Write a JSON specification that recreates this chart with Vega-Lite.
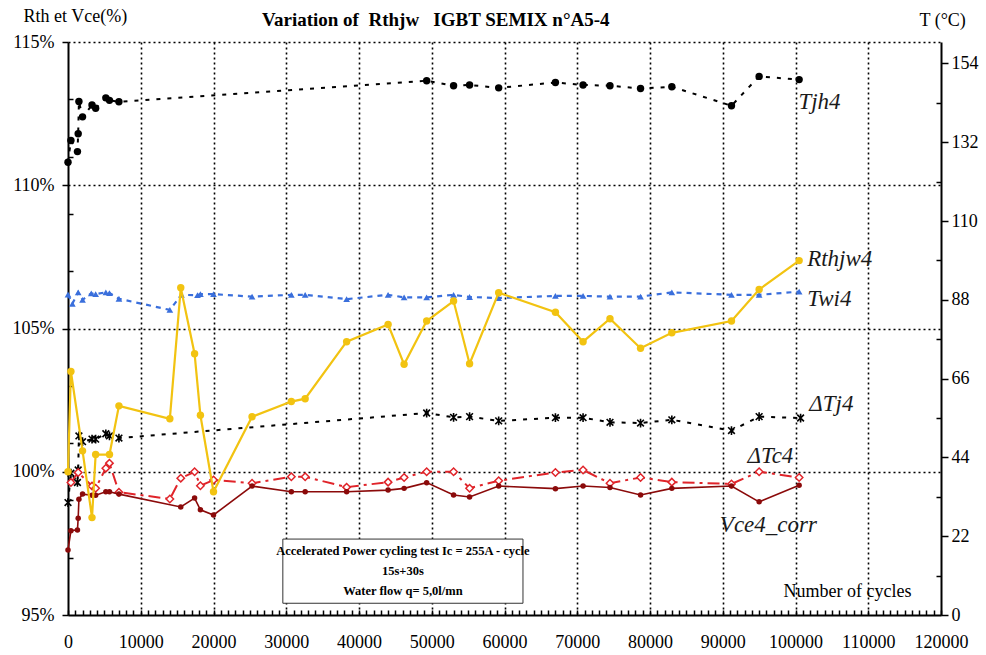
{
  "$schema": "https://vega.github.io/schema/vega-lite/v6.json",
  "width": 873,
  "height": 573,
  "autosize": "none",
  "padding": {"left": 68, "top": 42, "right": 45, "bottom": 40},
  "background": "white",
  "config": {
    "view": {"stroke": null},
    "font": "Liberation Serif",
    "axis": {"labelFont": "Liberation Serif", "titleFont": "Liberation Serif"},
    "text": {"font": "Liberation Serif"}
  },
  "title": {
    "text": "Variation of\u00a0 Rthjw\u00a0\u00a0 IGBT SEMIX n°A5-4",
    "anchor": "start", "frame": "group", "dx": 194, "dy": 20, "offset": -18,
    "font": "Liberation Serif", "fontSize": 19, "fontWeight": "bold", "color": "black", "baseline": "alphabetic"
  },
  "datasets": {
    "series": [
      {"s": "Tjh4", "cycles": 0, "v": 126.4},
      {"s": "Tjh4", "cycles": 400, "v": 132.5},
      {"s": "Tjh4", "cycles": 1300, "v": 129.4},
      {"s": "Tjh4", "cycles": 1400, "v": 134.4},
      {"s": "Tjh4", "cycles": 1500, "v": 143.4},
      {"s": "Tjh4", "cycles": 2000, "v": 139.1},
      {"s": "Tjh4", "cycles": 3300, "v": 142.4},
      {"s": "Tjh4", "cycles": 3800, "v": 141.5},
      {"s": "Tjh4", "cycles": 5200, "v": 144.4},
      {"s": "Tjh4", "cycles": 5700, "v": 143.7},
      {"s": "Tjh4", "cycles": 7000, "v": 143.3},
      {"s": "Tjh4", "cycles": 49300, "v": 149.2},
      {"s": "Tjh4", "cycles": 53000, "v": 147.8},
      {"s": "Tjh4", "cycles": 55200, "v": 148.0},
      {"s": "Tjh4", "cycles": 59200, "v": 147.2},
      {"s": "Tjh4", "cycles": 67000, "v": 148.7},
      {"s": "Tjh4", "cycles": 70800, "v": 148.0},
      {"s": "Tjh4", "cycles": 74500, "v": 147.8},
      {"s": "Tjh4", "cycles": 78700, "v": 147.0},
      {"s": "Tjh4", "cycles": 83000, "v": 147.5},
      {"s": "Tjh4", "cycles": 91200, "v": 142.2},
      {"s": "Tjh4", "cycles": 95000, "v": 150.4},
      {"s": "Tjh4", "cycles": 100500, "v": 149.5},

      {"s": "Twi4", "cycles": 0, "v": 89.5},
      {"s": "Twi4", "cycles": 600, "v": 86.9},
      {"s": "Twi4", "cycles": 1400, "v": 90.1},
      {"s": "Twi4", "cycles": 2000, "v": 88.0},
      {"s": "Twi4", "cycles": 3200, "v": 89.8},
      {"s": "Twi4", "cycles": 3800, "v": 89.6},
      {"s": "Twi4", "cycles": 5200, "v": 90.1},
      {"s": "Twi4", "cycles": 5700, "v": 89.9},
      {"s": "Twi4", "cycles": 7000, "v": 88.3},
      {"s": "Twi4", "cycles": 14000, "v": 85.2},
      {"s": "Twi4", "cycles": 15600, "v": 89.4},
      {"s": "Twi4", "cycles": 17800, "v": 89.3},
      {"s": "Twi4", "cycles": 18200, "v": 89.6},
      {"s": "Twi4", "cycles": 20000, "v": 89.6},
      {"s": "Twi4", "cycles": 25300, "v": 88.9},
      {"s": "Twi4", "cycles": 30700, "v": 89.4},
      {"s": "Twi4", "cycles": 32600, "v": 89.4},
      {"s": "Twi4", "cycles": 38300, "v": 88.2},
      {"s": "Twi4", "cycles": 44000, "v": 89.4},
      {"s": "Twi4", "cycles": 46200, "v": 88.7},
      {"s": "Twi4", "cycles": 49300, "v": 88.7},
      {"s": "Twi4", "cycles": 53000, "v": 89.4},
      {"s": "Twi4", "cycles": 55200, "v": 88.8},
      {"s": "Twi4", "cycles": 59200, "v": 88.5},
      {"s": "Twi4", "cycles": 67000, "v": 89.1},
      {"s": "Twi4", "cycles": 70800, "v": 89.1},
      {"s": "Twi4", "cycles": 74500, "v": 88.9},
      {"s": "Twi4", "cycles": 78700, "v": 88.9},
      {"s": "Twi4", "cycles": 83000, "v": 90.1},
      {"s": "Twi4", "cycles": 91200, "v": 89.4},
      {"s": "Twi4", "cycles": 95000, "v": 89.4},
      {"s": "Twi4", "cycles": 100500, "v": 90.3},

      {"s": "dTj4", "cycles": 0, "v": 31.4},
      {"s": "dTj4", "cycles": 400, "v": 39.6},
      {"s": "dTj4", "cycles": 1300, "v": 37.0},
      {"s": "dTj4", "cycles": 1400, "v": 40.5},
      {"s": "dTj4", "cycles": 1500, "v": 50.0},
      {"s": "dTj4", "cycles": 2000, "v": 48.4},
      {"s": "dTj4", "cycles": 3300, "v": 49.1},
      {"s": "dTj4", "cycles": 3800, "v": 49.1},
      {"s": "dTj4", "cycles": 5200, "v": 50.6},
      {"s": "dTj4", "cycles": 5700, "v": 50.0},
      {"s": "dTj4", "cycles": 7000, "v": 49.4},
      {"s": "dTj4", "cycles": 49300, "v": 56.4},
      {"s": "dTj4", "cycles": 53000, "v": 55.2},
      {"s": "dTj4", "cycles": 55200, "v": 55.4},
      {"s": "dTj4", "cycles": 59200, "v": 54.2},
      {"s": "dTj4", "cycles": 67000, "v": 55.1},
      {"s": "dTj4", "cycles": 70800, "v": 55.1},
      {"s": "dTj4", "cycles": 74500, "v": 53.8},
      {"s": "dTj4", "cycles": 78700, "v": 53.6},
      {"s": "dTj4", "cycles": 83000, "v": 54.5},
      {"s": "dTj4", "cycles": 91200, "v": 51.5},
      {"s": "dTj4", "cycles": 95000, "v": 55.4},
      {"s": "dTj4", "cycles": 100700, "v": 55.0},

      {"s": "dTc4", "cycles": 400, "v": 37.0},
      {"s": "dTc4", "cycles": 1400, "v": 39.8},
      {"s": "dTc4", "cycles": 3300, "v": 36.0},
      {"s": "dTc4", "cycles": 3800, "v": 35.4},
      {"s": "dTc4", "cycles": 5200, "v": 41.0},
      {"s": "dTc4", "cycles": 5700, "v": 42.4},
      {"s": "dTc4", "cycles": 7000, "v": 34.3},
      {"s": "dTc4", "cycles": 14000, "v": 32.4},
      {"s": "dTc4", "cycles": 15500, "v": 38.2},
      {"s": "dTc4", "cycles": 17400, "v": 40.0},
      {"s": "dTc4", "cycles": 18200, "v": 36.1},
      {"s": "dTc4", "cycles": 20000, "v": 37.7},
      {"s": "dTc4", "cycles": 25300, "v": 36.8},
      {"s": "dTc4", "cycles": 30700, "v": 38.6},
      {"s": "dTc4", "cycles": 32600, "v": 38.6},
      {"s": "dTc4", "cycles": 38300, "v": 35.7},
      {"s": "dTc4", "cycles": 44000, "v": 37.1},
      {"s": "dTc4", "cycles": 46200, "v": 38.4},
      {"s": "dTc4", "cycles": 49300, "v": 40.0},
      {"s": "dTc4", "cycles": 53000, "v": 40.0},
      {"s": "dTc4", "cycles": 55200, "v": 35.4},
      {"s": "dTc4", "cycles": 59200, "v": 37.5},
      {"s": "dTc4", "cycles": 67000, "v": 39.8},
      {"s": "dTc4", "cycles": 70800, "v": 40.5},
      {"s": "dTc4", "cycles": 74500, "v": 36.8},
      {"s": "dTc4", "cycles": 78700, "v": 38.4},
      {"s": "dTc4", "cycles": 83000, "v": 37.1},
      {"s": "dTc4", "cycles": 91200, "v": 36.6},
      {"s": "dTc4", "cycles": 95000, "v": 40.0},
      {"s": "dTc4", "cycles": 100500, "v": 38.4},

      {"s": "Rthjw4", "cycles": 0, "v": 100.0},
      {"s": "Rthjw4", "cycles": 400, "v": 103.5},
      {"s": "Rthjw4", "cycles": 2000, "v": 100.73},
      {"s": "Rthjw4", "cycles": 3300, "v": 98.4},
      {"s": "Rthjw4", "cycles": 3800, "v": 100.6},
      {"s": "Rthjw4", "cycles": 5700, "v": 100.6},
      {"s": "Rthjw4", "cycles": 7000, "v": 102.3},
      {"s": "Rthjw4", "cycles": 14000, "v": 101.85},
      {"s": "Rthjw4", "cycles": 15500, "v": 106.42},
      {"s": "Rthjw4", "cycles": 17400, "v": 104.12},
      {"s": "Rthjw4", "cycles": 18200, "v": 101.97},
      {"s": "Rthjw4", "cycles": 20000, "v": 99.3},
      {"s": "Rthjw4", "cycles": 25300, "v": 101.92},
      {"s": "Rthjw4", "cycles": 30700, "v": 102.45},
      {"s": "Rthjw4", "cycles": 32600, "v": 102.55},
      {"s": "Rthjw4", "cycles": 38300, "v": 104.54},
      {"s": "Rthjw4", "cycles": 44000, "v": 105.14},
      {"s": "Rthjw4", "cycles": 46200, "v": 103.75},
      {"s": "Rthjw4", "cycles": 49300, "v": 105.26},
      {"s": "Rthjw4", "cycles": 53000, "v": 105.96},
      {"s": "Rthjw4", "cycles": 55200, "v": 103.77},
      {"s": "Rthjw4", "cycles": 59200, "v": 106.25},
      {"s": "Rthjw4", "cycles": 67000, "v": 105.57},
      {"s": "Rthjw4", "cycles": 70800, "v": 104.54},
      {"s": "Rthjw4", "cycles": 74500, "v": 105.34},
      {"s": "Rthjw4", "cycles": 78700, "v": 104.31},
      {"s": "Rthjw4", "cycles": 83000, "v": 104.85},
      {"s": "Rthjw4", "cycles": 91200, "v": 105.26},
      {"s": "Rthjw4", "cycles": 95000, "v": 106.36},
      {"s": "Rthjw4", "cycles": 100500, "v": 107.37},

      {"s": "Vce4_corr", "cycles": 0, "v": 97.27},
      {"s": "Vce4_corr", "cycles": 400, "v": 97.94},
      {"s": "Vce4_corr", "cycles": 1300, "v": 97.97},
      {"s": "Vce4_corr", "cycles": 1400, "v": 98.38},
      {"s": "Vce4_corr", "cycles": 1500, "v": 99.04},
      {"s": "Vce4_corr", "cycles": 2000, "v": 99.22},
      {"s": "Vce4_corr", "cycles": 3300, "v": 99.18},
      {"s": "Vce4_corr", "cycles": 3800, "v": 99.18},
      {"s": "Vce4_corr", "cycles": 5200, "v": 99.3},
      {"s": "Vce4_corr", "cycles": 5700, "v": 99.3},
      {"s": "Vce4_corr", "cycles": 7000, "v": 99.22},
      {"s": "Vce4_corr", "cycles": 15500, "v": 98.77},
      {"s": "Vce4_corr", "cycles": 17400, "v": 99.08},
      {"s": "Vce4_corr", "cycles": 18200, "v": 98.67},
      {"s": "Vce4_corr", "cycles": 20000, "v": 98.49},
      {"s": "Vce4_corr", "cycles": 25300, "v": 99.5},
      {"s": "Vce4_corr", "cycles": 30700, "v": 99.3},
      {"s": "Vce4_corr", "cycles": 32600, "v": 99.3},
      {"s": "Vce4_corr", "cycles": 38300, "v": 99.3},
      {"s": "Vce4_corr", "cycles": 44000, "v": 99.36},
      {"s": "Vce4_corr", "cycles": 46200, "v": 99.42},
      {"s": "Vce4_corr", "cycles": 49300, "v": 99.62},
      {"s": "Vce4_corr", "cycles": 53000, "v": 99.19},
      {"s": "Vce4_corr", "cycles": 55200, "v": 99.12},
      {"s": "Vce4_corr", "cycles": 59200, "v": 99.5},
      {"s": "Vce4_corr", "cycles": 67000, "v": 99.41},
      {"s": "Vce4_corr", "cycles": 70800, "v": 99.5},
      {"s": "Vce4_corr", "cycles": 74500, "v": 99.45},
      {"s": "Vce4_corr", "cycles": 78700, "v": 99.19},
      {"s": "Vce4_corr", "cycles": 83000, "v": 99.42},
      {"s": "Vce4_corr", "cycles": 91200, "v": 99.5},
      {"s": "Vce4_corr", "cycles": 95000, "v": 98.95},
      {"s": "Vce4_corr", "cycles": 100500, "v": 99.53}
    ],
    "labels": [
      {"label": "Tjh4", "cycles": 100400, "v": 112.67},
      {"label": "Rthjw4", "cycles": 101600, "v": 107.17},
      {"label": "Twi4", "cycles": 101600, "v": 105.78},
      {"label": "ΔTj4", "cycles": 101900, "v": 102.12},
      {"label": "ΔTc4", "cycles": 93400, "v": 100.32},
      {"label": "Vce4_corr", "cycles": 89600, "v": 97.89}
    ],
    "note": [
      {"note": ["Accelerated Power cycling test Ic = 255A - cycle", "15s+30s", "Water flow q= 5,0l/mn"],
       "from": 29530, "to": 62540, "low": 95.41, "high": 97.65, "mid": 46035, "first": 97.09}
    ]
  },
  "data": {"name": "series"},
  "encoding": {
    "x": {
      "field": "cycles", "type": "quantitative",
      "scale": {"domain": [0, 120000], "nice": false, "zero": false},
      "axis": {
        "values": [0,1000,2000,3000,4000,5000,6000,7000,8000,9000,10000,11000,12000,13000,14000,15000,16000,17000,18000,19000,20000,21000,22000,23000,24000,25000,26000,27000,28000,29000,30000,31000,32000,33000,34000,35000,36000,37000,38000,39000,40000,41000,42000,43000,44000,45000,46000,47000,48000,49000,50000,51000,52000,53000,54000,55000,56000,57000,58000,59000,60000,61000,62000,63000,64000,65000,66000,67000,68000,69000,70000,71000,72000,73000,74000,75000,76000,77000,78000,79000,80000,81000,82000,83000,84000,85000,86000,87000,88000,89000,90000,91000,92000,93000,94000,95000,96000,97000,98000,99000,100000,101000,102000,103000,104000,105000,106000,107000,108000,109000,110000,111000,112000,113000,114000,115000,116000,117000,118000,119000,120000],
        "labelExpr": "datum.value % 10000 === 0 ? '' + datum.value : ''",
        "labelFont": "Liberation Serif", "labelFontSize": 18, "labelColor": "black",
        "labelPadding": 23, "labelOverlap": false, "labelFlush": false, "labelBound": false,
        "tickSize": -5, "tickColor": "black", "tickWidth": 1.5,
        "domainColor": "black", "domainWidth": 2,
        "grid": true, "gridColor": "black", "gridDash": [2, 3], "gridWidth": 1.6,
        "gridOpacity": {"condition": {"test": "datum.value % 10000 === 0 && datum.value > 0 && datum.value < 120000", "value": 1}, "value": 0},
        "title": "Number of cycles", "titleFont": "Liberation Serif", "titleFontSize": 18,
        "titleFontWeight": "normal", "titleColor": "black",
        "titleX": 779, "titleY": -19, "titleAlign": "center", "titleBaseline": "alphabetic"
      }
    }
  },
  "layer": [
    {
      "encoding": {
        "y": {
          "field": "v", "type": "quantitative",
          "scale": {"domain": [0, 160], "nice": false, "zero": false},
          "axis": {
            "orient": "right",
            "values": [0,11,22,33,44,55,66,77,88,99,110,121,132,143,154],
            "labelExpr": "datum.value % 22 === 0 ? '' + datum.value : ''",
            "labelFont": "Liberation Serif", "labelFontSize": 18, "labelColor": "black",
            "labelPadding": 3, "labelOverlap": false, "labelBound": false, "labelFlush": false,
            "tickSize": {"condition": {"test": "datum.value % 22 === 0", "value": 7}, "value": -5},
            "tickColor": "black", "tickWidth": 1.5,
            "domainColor": "black", "domainWidth": 2, "grid": false,
            "title": "T (°C)", "titleFont": "Liberation Serif", "titleFontSize": 18, "titleFontWeight": "normal",
            "titleColor": "black", "titleAngle": 0, "titleX": -22, "titleY": -17,
            "titleAlign": "left", "titleBaseline": "alphabetic"
          }
        }
      },
      "layer": [
        {"transform": [{"filter": "datum.s === 'Twi4'"}],
         "mark": {"type": "line", "color": "#3a6fdc", "strokeWidth": 2.2, "strokeDash": [5, 5]}},
        {"transform": [{"filter": "datum.s === 'Twi4'"}],
         "mark": {"type": "point", "shape": "triangle-up", "filled": true, "color": "#3a6fdc", "size": 45, "opacity": 1}},
        {"transform": [{"filter": "datum.s === 'Tjh4'"}],
         "mark": {"type": "line", "color": "black", "strokeWidth": 2, "strokeDash": [4, 7]}},
        {"transform": [{"filter": "datum.s === 'Tjh4'"}],
         "mark": {"type": "point", "shape": "circle", "filled": true, "color": "black", "size": 55, "opacity": 1}},
        {"transform": [{"filter": "datum.s === 'dTj4'"}],
         "mark": {"type": "line", "color": "black", "strokeWidth": 2, "strokeDash": [4, 7]}},
        {"transform": [{"filter": "datum.s === 'dTj4'"}],
         "mark": {"type": "point", "shape": "M-1,-1L1,1M-1,1L1,-1M0,-1.3L0,1.3", "filled": false, "stroke": "black", "strokeWidth": 1.6, "size": 45, "opacity": 1}},
        {"transform": [{"filter": "datum.s === 'dTc4'"}],
         "mark": {"type": "line", "color": "#e0242a", "strokeWidth": 2, "strokeDash": [12, 5, 3, 5]}},
        {"transform": [{"filter": "datum.s === 'dTc4'"}],
         "mark": {"type": "point", "shape": "diamond", "filled": true, "fill": "white", "stroke": "#e0242a", "strokeWidth": 1.5, "size": 55, "opacity": 1}}
      ]
    },
    {
      "encoding": {
        "y": {
          "field": "v", "type": "quantitative",
          "scale": {"domain": [95, 115], "nice": false, "zero": false},
          "axis": {
            "orient": "left",
            "values": [95,97,99,100,101,103,105,107,109,110,111,113,115],
            "labelExpr": "datum.value % 5 === 0 ? datum.value + '%' : ''",
            "labelFont": "Liberation Serif", "labelFontSize": 18, "labelColor": "black",
            "labelPadding": 8, "labelOverlap": false, "labelBound": false, "labelFlush": false,
            "tickSize": {"condition": {"test": "datum.value % 5 === 0", "value": 6}, "value": -5},
            "tickColor": "black", "tickWidth": 1.5,
            "domainColor": "black", "domainWidth": 2,
            "grid": true, "gridColor": "black", "gridDash": [2, 3], "gridWidth": 1.6,
            "gridOpacity": {"condition": {"test": "datum.value % 5 === 0 && datum.value > 95", "value": 1}, "value": 0},
            "title": "Rth et Vce(%)", "titleFont": "Liberation Serif", "titleFontSize": 18, "titleFontWeight": "normal",
            "titleColor": "black", "titleAngle": 0, "titleX": -45, "titleY": -21,
            "titleAlign": "left", "titleBaseline": "alphabetic"
          }
        }
      },
      "layer": [
        {"transform": [{"filter": "datum.s === 'Vce4_corr'"}],
         "mark": {"type": "line", "color": "#8b0a0a", "strokeWidth": 1.6}},
        {"transform": [{"filter": "datum.s === 'Vce4_corr'"}],
         "mark": {"type": "point", "shape": "circle", "filled": true, "color": "#8b0a0a", "size": 30, "opacity": 1}},
        {"transform": [{"filter": "datum.s === 'Rthjw4'"}],
         "mark": {"type": "line", "color": "#f2c311", "strokeWidth": 2.2}},
        {"transform": [{"filter": "datum.s === 'Rthjw4'"}],
         "mark": {"type": "point", "shape": "circle", "filled": true, "color": "#f2c311", "size": 55, "opacity": 1}},
        {"data": {"name": "labels"},
         "mark": {"type": "text", "font": "Liberation Serif", "fontStyle": "italic", "fontSize": 23, "color": "#1a1a1a", "align": "left", "baseline": "alphabetic"},
         "encoding": {"text": {"field": "label"}}},
        {"data": {"name": "note"},
         "mark": {"type": "rect", "fill": "white", "stroke": "#333333", "strokeWidth": 1},
         "encoding": {
           "x": {"field": "from", "type": "quantitative"},
           "x2": {"field": "to"},
           "y": {"field": "low", "type": "quantitative"},
           "y2": {"field": "high"}
         }},
        {"data": {"name": "note"},
         "mark": {"type": "text", "font": "Liberation Serif", "fontWeight": "bold", "fontSize": 12.5, "lineHeight": 20, "color": "black", "align": "center", "baseline": "alphabetic"},
         "encoding": {
           "x": {"field": "mid", "type": "quantitative"},
           "y": {"field": "first", "type": "quantitative"},
           "text": {"field": "note"}
         }}
      ]
    }
  ],
  "resolve": {"scale": {"y": "independent"}, "axis": {"y": "independent"}}
}
